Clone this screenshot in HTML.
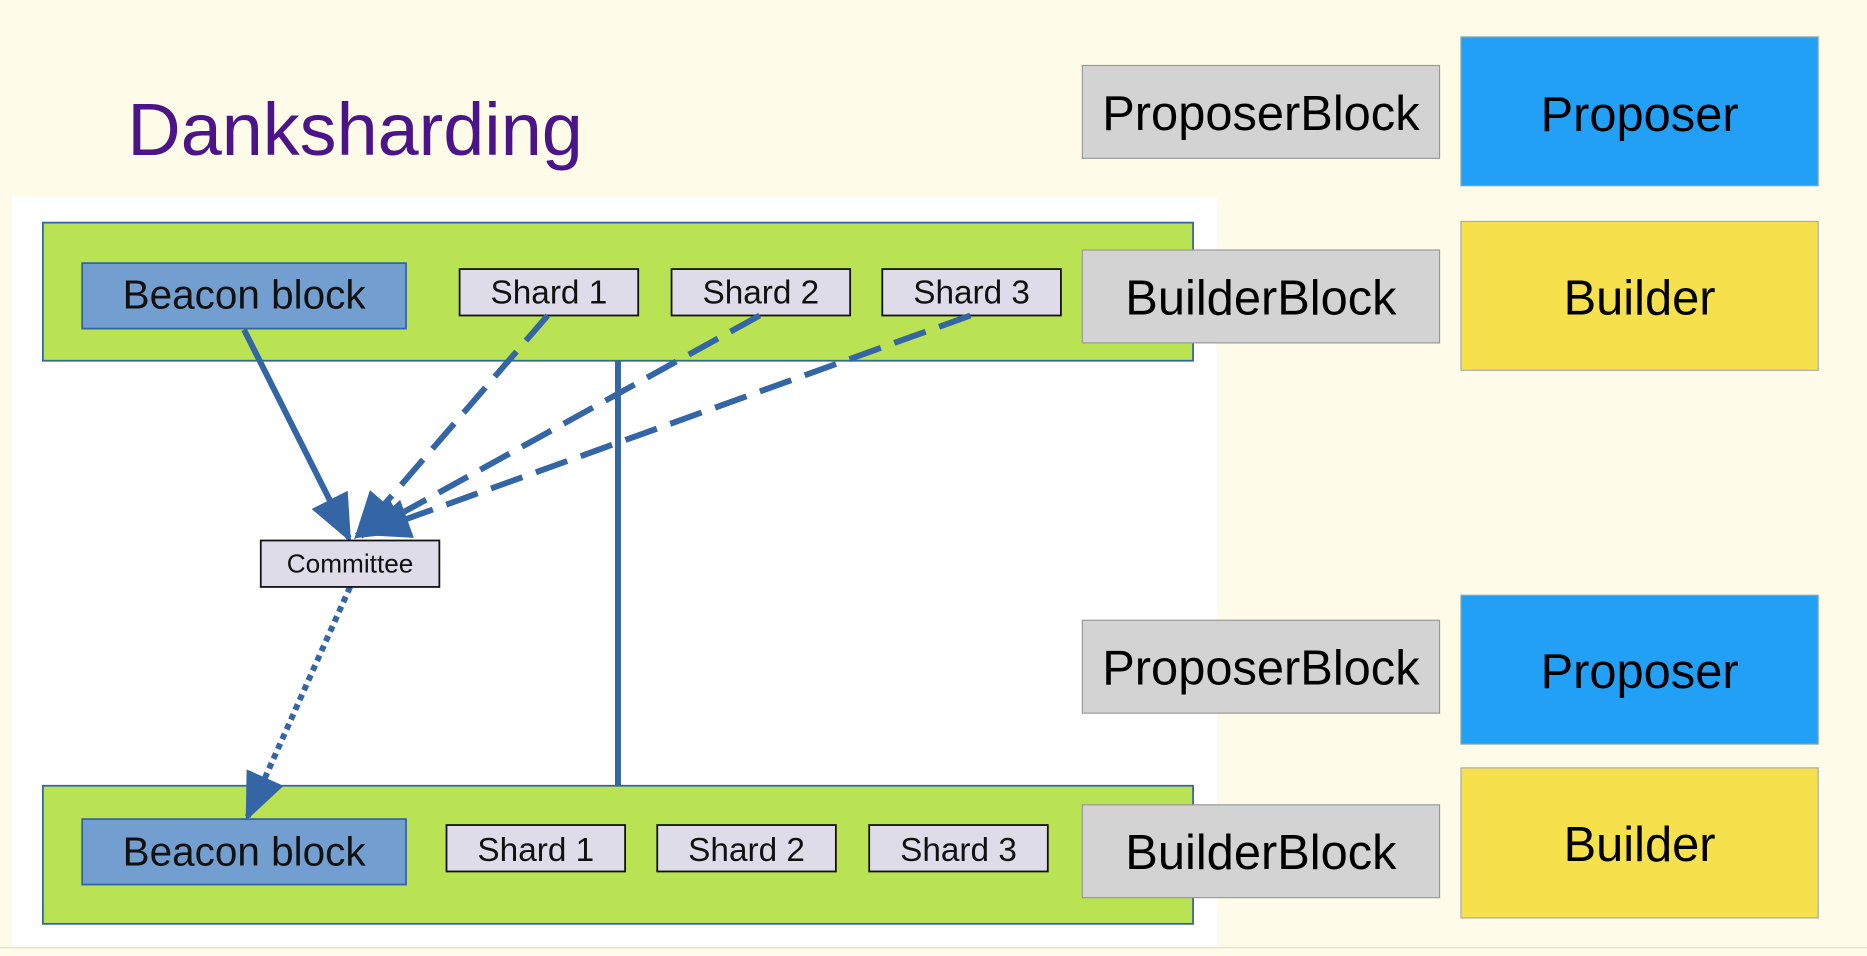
<!DOCTYPE html>
<html><head><meta charset="utf-8"><style>
html,body{margin:0;padding:0;background:#fefbe8;}
svg{display:block;font-family:"Liberation Sans",sans-serif;}
</style></head><body>
<svg width="1867" height="956" viewBox="0 0 1568 803" preserveAspectRatio="none">
<defs>
<marker id="ahb" markerWidth="40" markerHeight="34" refX="36" refY="17" orient="auto" markerUnits="userSpaceOnUse" viewBox="0 0 40 34">
<path d="M0,0 L40,17 L0,34 z" fill="#3465a4"/></marker>
</defs>
<rect width="1568" height="803" fill="#fefbe8"/>
<rect x="10" y="165" width="1012" height="630" fill="#ffffff"/>
<text x="107" y="130" font-size="62" fill="#4b1488">Danksharding</text>

<g>
<rect x="36" y="187" width="966" height="116" fill="#bae353" stroke="#3465a4" stroke-width="1.5"/>
<rect x="69" y="221" width="272" height="55" fill="#729fcf" stroke="#3465a4" stroke-width="1.5"/>
<text x="205" y="259" font-size="34" text-anchor="middle" fill="#111">Beacon block</text>
<rect x="386" y="226" width="150" height="39" fill="#dddce8" stroke="#111" stroke-width="1.5"/>
<text x="461" y="255" font-size="28" text-anchor="middle" fill="#111">Shard 1</text>
<rect x="564" y="226" width="150" height="39" fill="#dddce8" stroke="#111" stroke-width="1.5"/>
<text x="639" y="255" font-size="28" text-anchor="middle" fill="#111">Shard 2</text>
<rect x="741" y="226" width="150" height="39" fill="#dddce8" stroke="#111" stroke-width="1.5"/>
<text x="816" y="255" font-size="28" text-anchor="middle" fill="#111">Shard 3</text>
</g>

<line x1="519" y1="303" x2="519" y2="660" stroke="#3465a4" stroke-width="5"/>

<g>
<rect x="36" y="660" width="966" height="116" fill="#bae353" stroke="#3465a4" stroke-width="1.5"/>
<rect x="69" y="688" width="272" height="55" fill="#729fcf" stroke="#3465a4" stroke-width="1.5"/>
<text x="205" y="727" font-size="34" text-anchor="middle" fill="#111">Beacon block</text>
<rect x="375" y="693" width="150" height="39" fill="#dddce8" stroke="#111" stroke-width="1.5"/>
<text x="450" y="723" font-size="28" text-anchor="middle" fill="#111">Shard 1</text>
<rect x="552" y="693" width="150" height="39" fill="#dddce8" stroke="#111" stroke-width="1.5"/>
<text x="627" y="723" font-size="28" text-anchor="middle" fill="#111">Shard 2</text>
<rect x="730" y="693" width="150" height="39" fill="#dddce8" stroke="#111" stroke-width="1.5"/>
<text x="805" y="723" font-size="28" text-anchor="middle" fill="#111">Shard 3</text>
</g>

<g stroke="#3465a4" stroke-width="5" fill="none">
<line x1="205" y1="277" x2="293" y2="452" marker-end="url(#ahb)"/>
<line x1="460" y1="265" x2="300" y2="450" stroke-dasharray="28,12" marker-end="url(#ahb)"/>
<line x1="638" y1="265" x2="303" y2="450" stroke-dasharray="28,12" marker-end="url(#ahb)"/>
<line x1="815" y1="265" x2="308" y2="448" stroke-dasharray="28,12" marker-end="url(#ahb)"/>
<line x1="294" y1="493" x2="208" y2="686" stroke-dasharray="5,4" marker-end="url(#ahb)"/>
</g>

<rect x="219" y="454" width="150" height="39" fill="#dddce8" stroke="#111" stroke-width="1.5"/>
<text x="294" y="481" font-size="22" text-anchor="middle" fill="#111">Committee</text>

<g>
<rect x="909" y="55" width="300" height="78" fill="#d3d3d3" stroke="#999" stroke-width="1"/>
<text x="1059" y="109" font-size="41" text-anchor="middle" fill="#000">ProposerBlock</text>
<rect x="1227" y="31" width="300" height="125" fill="#21a0f6" stroke="#8aa" stroke-width="1"/>
<text x="1377" y="110" font-size="41" text-anchor="middle" fill="#000">Proposer</text>
<rect x="909" y="210" width="300" height="78" fill="#d3d3d3" stroke="#999" stroke-width="1"/>
<text x="1059" y="264" font-size="41" text-anchor="middle" fill="#000">BuilderBlock</text>
<rect x="1227" y="186" width="300" height="125" fill="#f6e04b" stroke="#aaa" stroke-width="1"/>
<text x="1377" y="264" font-size="41" text-anchor="middle" fill="#000">Builder</text>
</g>
<g>
<rect x="909" y="521" width="300" height="78" fill="#d3d3d3" stroke="#999" stroke-width="1"/>
<text x="1059" y="575" font-size="41" text-anchor="middle" fill="#000">ProposerBlock</text>
<rect x="1227" y="500" width="300" height="125" fill="#21a0f6" stroke="#8aa" stroke-width="1"/>
<text x="1377" y="578" font-size="41" text-anchor="middle" fill="#000">Proposer</text>
<rect x="909" y="676" width="300" height="78" fill="#d3d3d3" stroke="#999" stroke-width="1"/>
<text x="1059" y="730" font-size="41" text-anchor="middle" fill="#000">BuilderBlock</text>
<rect x="1227" y="645" width="300" height="126" fill="#f6e04b" stroke="#aaa" stroke-width="1"/>
<text x="1377" y="723" font-size="41" text-anchor="middle" fill="#000">Builder</text>
</g>
<line x1="0" y1="796" x2="1568" y2="796" stroke="#f8d0d0" stroke-width="1"/>
</svg>
</body></html>
